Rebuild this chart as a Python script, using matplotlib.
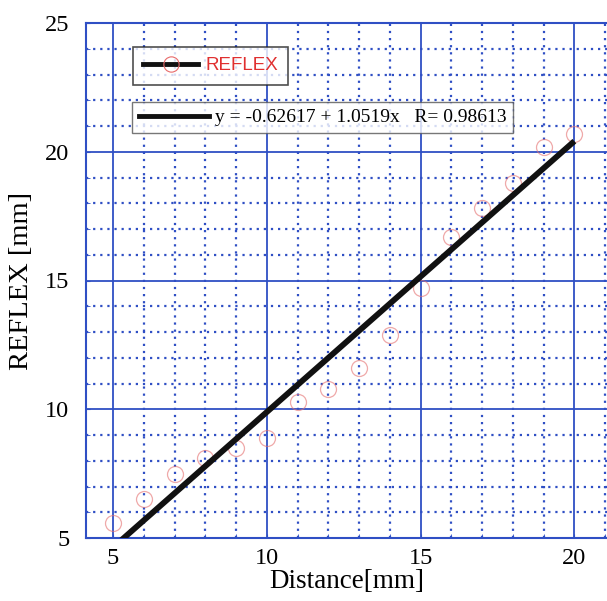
import matplotlib
matplotlib.use("Agg")
import matplotlib.pyplot as plt
import numpy as np
from matplotlib.lines import Line2D
from matplotlib.ticker import MultipleLocator

distance = [5, 6, 7, 8, 9, 10, 11, 12, 13, 14, 15, 16, 17, 18, 19, 20]
reflex = [5.6, 6.5, 7.5, 8.1, 8.5, 8.9, 10.3, 10.8, 11.6, 12.9, 14.7, 16.7, 17.8, 18.8, 20.2, 20.7]
fit_intercept = -0.62617
fit_slope = 1.0519
fit_r = 0.98613
x_ticks = [5, 10, 15, 20]
y_ticks = [5, 10, 15, 20, 25]

fig = plt.figure(figsize=(6.07, 6.01), dpi=100)
ax = fig.add_axes([86/607, 1 - 538/601, 1 - 86/607 + 0.002, (538 - 23)/601])

grid_blue = "#2f4fc4"
ax.set_xlim(4.12, 21.1)
ax.set_ylim(5, 25)
ax.xaxis.set_major_locator(MultipleLocator(5))
ax.yaxis.set_major_locator(MultipleLocator(5))
ax.xaxis.set_minor_locator(MultipleLocator(1))
ax.yaxis.set_minor_locator(MultipleLocator(1))
ax.grid(which="major", color=grid_blue, lw=1.3, ls="-")
ax.grid(which="minor", color=grid_blue, lw=1.6, ls=(0, (1, 2.2)))
ax.set_axisbelow(True)
for s in ax.spines.values():
    s.set_color(grid_blue)
    s.set_linewidth(1.5)
ax.tick_params(which="both", direction="in", color=grid_blue, length=3)
ax.set_xticks(x_ticks)
ax.set_yticks(y_ticks)
serif = "Liberation Serif"
for lab in ax.get_xticklabels() + ax.get_yticklabels():
    lab.set_fontfamily(serif)
    lab.set_fontsize(17.5)
ax.tick_params(axis="x", pad=7)
ax.tick_params(axis="y", pad=12)

ax.plot(distance, reflex, ls="none", marker="o", ms=11.5, mfc="none",
        mec="#e57070", mew=0.9, alpha=0.6, zorder=3)
xf = np.array([distance[0], distance[-1]])
ax.plot(xf, fit_intercept + fit_slope * xf, color="#111111", lw=4.2, zorder=4,
        solid_capstyle="butt")

ax.set_xlabel("Distance[mm]", fontfamily=serif, fontsize=19.5, labelpad=0)
ax.set_ylabel("REFLEX [mm]", fontfamily=serif, fontsize=20.5, labelpad=8)

h1 = Line2D([], [], color="#111111", lw=3.5, marker="o", ms=11, mfc="none",
            mec="#e86a6a", mew=0.8)
leg1 = ax.legend([h1], ["REFLEX"], loc="upper left",
                 bbox_to_anchor=((133 - 86)/521, (538 - 47)/515),
                 frameon=True, fancybox=False, edgecolor="#222222",
                 prop={"family": "Liberation Sans", "size": 13.5},
                 handlelength=2.9, borderpad=0.55, handletextpad=0.4,
                 borderaxespad=0)
leg1.get_frame().set_linewidth(1.2)
for t in leg1.get_texts():
    t.set_color("#e03030")
ax.add_artist(leg1)

h2 = Line2D([], [], color="#111111", lw=3.5)
label2 = f"y = {fit_intercept} + {fit_slope}x   R= {fit_r}"
leg2 = ax.legend([h2], [label2], loc="upper left",
                 bbox_to_anchor=((132 - 86)/521, (538 - 102)/515),
                 frameon=True, fancybox=False, edgecolor="#555555",
                 prop={"family": serif, "size": 14},
                 handlelength=3.6, borderpad=0.35, handletextpad=0.3,
                 borderaxespad=0)
leg2.get_frame().set_linewidth(1.0)

fig.savefig("out.png", dpi=100)
